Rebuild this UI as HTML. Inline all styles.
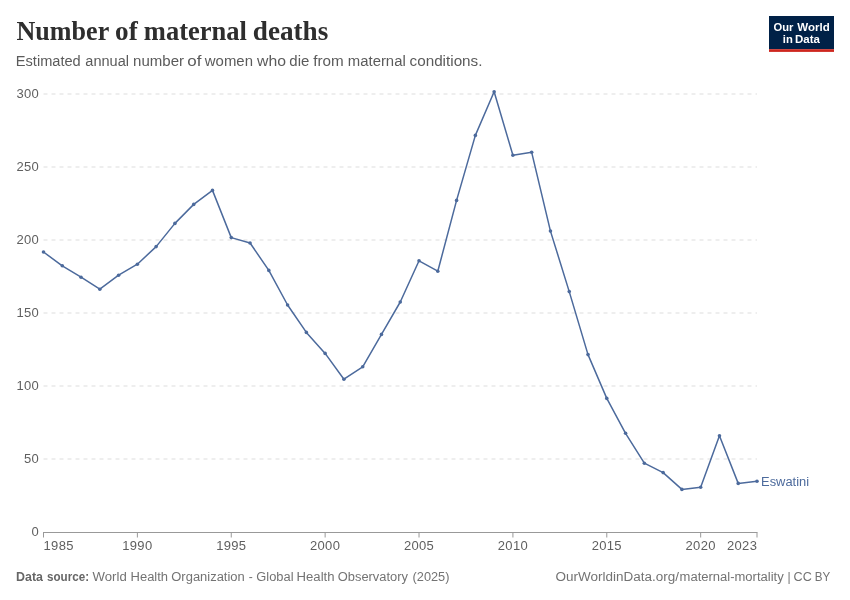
<!DOCTYPE html>
<html><head><meta charset="utf-8"><title>Number of maternal deaths</title>
<style>
html,body{margin:0;padding:0;background:#fff;}
svg{display:block;font-family:"Liberation Sans",sans-serif;}
.title{font-family:"Liberation Serif",serif;font-weight:bold;font-size:27px;fill:#2e2e2e;}
.sub{font-size:14px;fill:#5b5b5b;}
.grid line{stroke:#dddddd;stroke-width:1;stroke-dasharray:4 4;}
.ax text{font-size:13px;fill:#5f5f5f;letter-spacing:0.3px;}
.ticks line,.axline{stroke:#999;stroke-width:1;}
.foot{font-size:12px;fill:#737373;}
.footb{font-size:12px;fill:#666666;font-weight:bold;}
.logo{font-size:11.2px;font-weight:bold;fill:#fff;}
.series{fill:none;stroke:#4c6a9c;stroke-width:1.5;stroke-linejoin:round;stroke-linecap:round;}
.dots circle{fill:#4c6a9c;}
.lbl{font-size:12.3px;fill:#4c6a9c;}
</style></head><body>
<svg width="850" height="600" viewBox="0 0 850 600">
<rect width="850" height="600" fill="#fff"/>
<rect x="769" y="16" width="65" height="33.2" fill="#002147"/>
<rect x="769" y="49.2" width="65" height="2.7" fill="#ce261e"/>
<g class="grid"><line x1="43.5" x2="757" y1="94" y2="94"/><line x1="43.5" x2="757" y1="167" y2="167"/><line x1="43.5" x2="757" y1="240" y2="240"/><line x1="43.5" x2="757" y1="313" y2="313"/><line x1="43.5" x2="757" y1="386" y2="386"/><line x1="43.5" x2="757" y1="459" y2="459"/></g>
<g class="ax"><text x="39.0" y="98.2" text-anchor="end">300</text><text x="39.0" y="171.2" text-anchor="end">250</text><text x="39.0" y="244.2" text-anchor="end">200</text><text x="39.0" y="317.2" text-anchor="end">150</text><text x="39.0" y="390.2" text-anchor="end">100</text><text x="39.0" y="463.2" text-anchor="end">50</text><text x="39.0" y="536.2" text-anchor="end">0</text><text x="43.6" y="550.4" text-anchor="start">1985</text><text x="137.38" y="550.4" text-anchor="middle">1990</text><text x="231.26" y="550.4" text-anchor="middle">1995</text><text x="325.14" y="550.4" text-anchor="middle">2000</text><text x="419.03" y="550.4" text-anchor="middle">2005</text><text x="512.91" y="550.4" text-anchor="middle">2010</text><text x="606.79" y="550.4" text-anchor="middle">2015</text><text x="700.67" y="550.4" text-anchor="middle">2020</text><text x="757.2" y="550.4" text-anchor="end">2023</text></g>
<line class="axline" x1="43" x2="757.5" y1="532.5" y2="532.5"/>
<g class="ticks"><line x1="43.50" x2="43.50" y1="532.5" y2="537.5"/><line x1="137.38" x2="137.38" y1="532.5" y2="537.5"/><line x1="231.26" x2="231.26" y1="532.5" y2="537.5"/><line x1="325.14" x2="325.14" y1="532.5" y2="537.5"/><line x1="419.03" x2="419.03" y1="532.5" y2="537.5"/><line x1="512.91" x2="512.91" y1="532.5" y2="537.5"/><line x1="606.79" x2="606.79" y1="532.5" y2="537.5"/><line x1="700.67" x2="700.67" y1="532.5" y2="537.5"/><line x1="757.00" x2="757.00" y1="532.5" y2="537.5"/></g>
<polyline class="series" points="43.5,252.0 62.28,265.8 81.05,277.2 99.83,289.2 118.61,275.2 137.38,264.2 156.16,246.6 174.93,223.4 193.71,204.4 212.49,190.4 231.26,237.6 250.04,243.0 268.82,270.4 287.59,305.0 306.37,332.4 325.14,353.4 343.92,379.2 362.7,366.8 381.47,334.4 400.25,302.0 419.03,260.8 437.8,271.2 456.58,200.4 475.36,135.4 494.13,91.8 512.91,155.2 531.68,152.3 550.46,231.1 569.24,291.6 588.01,354.6 606.79,398.4 625.57,433.3 644.34,463.2 663.12,472.6 681.89,489.4 700.67,487.2 719.45,435.8 738.22,483.4 757.0,481.2"/>
<g class="dots"><circle cx="43.5" cy="252.0" r="1.8"/><circle cx="62.28" cy="265.8" r="1.8"/><circle cx="81.05" cy="277.2" r="1.8"/><circle cx="99.83" cy="289.2" r="1.8"/><circle cx="118.61" cy="275.2" r="1.8"/><circle cx="137.38" cy="264.2" r="1.8"/><circle cx="156.16" cy="246.6" r="1.8"/><circle cx="174.93" cy="223.4" r="1.8"/><circle cx="193.71" cy="204.4" r="1.8"/><circle cx="212.49" cy="190.4" r="1.8"/><circle cx="231.26" cy="237.6" r="1.8"/><circle cx="250.04" cy="243.0" r="1.8"/><circle cx="268.82" cy="270.4" r="1.8"/><circle cx="287.59" cy="305.0" r="1.8"/><circle cx="306.37" cy="332.4" r="1.8"/><circle cx="325.14" cy="353.4" r="1.8"/><circle cx="343.92" cy="379.2" r="1.8"/><circle cx="362.7" cy="366.8" r="1.8"/><circle cx="381.47" cy="334.4" r="1.8"/><circle cx="400.25" cy="302.0" r="1.8"/><circle cx="419.03" cy="260.8" r="1.8"/><circle cx="437.8" cy="271.2" r="1.8"/><circle cx="456.58" cy="200.4" r="1.8"/><circle cx="475.36" cy="135.4" r="1.8"/><circle cx="494.13" cy="91.8" r="1.8"/><circle cx="512.91" cy="155.2" r="1.8"/><circle cx="531.68" cy="152.3" r="1.8"/><circle cx="550.46" cy="231.1" r="1.8"/><circle cx="569.24" cy="291.6" r="1.8"/><circle cx="588.01" cy="354.6" r="1.8"/><circle cx="606.79" cy="398.4" r="1.8"/><circle cx="625.57" cy="433.3" r="1.8"/><circle cx="644.34" cy="463.2" r="1.8"/><circle cx="663.12" cy="472.6" r="1.8"/><circle cx="681.89" cy="489.4" r="1.8"/><circle cx="700.67" cy="487.2" r="1.8"/><circle cx="719.45" cy="435.8" r="1.8"/><circle cx="738.22" cy="483.4" r="1.8"/><circle cx="757.0" cy="481.2" r="1.8"/></g>
<text id="t0" class="w title" x="16.55" y="40" textLength="92.67" lengthAdjust="spacingAndGlyphs">Number</text>
<text id="t1" class="w title" x="115.05" y="40" textLength="22.66" lengthAdjust="spacingAndGlyphs">of</text>
<text id="t2" class="w title" x="143.80" y="40" textLength="103.16" lengthAdjust="spacingAndGlyphs">maternal</text>
<text id="t3" class="w title" x="252.80" y="40" textLength="75.42" lengthAdjust="spacingAndGlyphs">deaths</text>
<text id="s0" class="w sub" x="15.80" y="66.2" textLength="64.94" lengthAdjust="spacingAndGlyphs">Estimated</text>
<text id="s1" class="w sub" x="85.30" y="66.2" textLength="43.69" lengthAdjust="spacingAndGlyphs">annual</text>
<text id="s2" class="w sub" x="133.05" y="66.2" textLength="50.94" lengthAdjust="spacingAndGlyphs">number</text>
<text id="s3" class="w sub" x="187.30" y="66.2" textLength="14.15" lengthAdjust="spacingAndGlyphs">of</text>
<text id="s4" class="w sub" x="204.80" y="66.2" textLength="48.16" lengthAdjust="spacingAndGlyphs">women</text>
<text id="s5" class="w sub" x="257.05" y="66.2" textLength="28.92" lengthAdjust="spacingAndGlyphs">who</text>
<text id="s6" class="w sub" x="289.30" y="66.2" textLength="19.99" lengthAdjust="spacingAndGlyphs">die</text>
<text id="s7" class="w sub" x="313.30" y="66.2" textLength="30.47" lengthAdjust="spacingAndGlyphs">from</text>
<text id="s8" class="w sub" x="347.80" y="66.2" textLength="57.95" lengthAdjust="spacingAndGlyphs">maternal</text>
<text id="s9" class="w sub" x="409.55" y="66.2" textLength="72.93" lengthAdjust="spacingAndGlyphs">conditions.</text>
<text id="f0" class="w footb" x="16.05" y="581" textLength="26.96" lengthAdjust="spacingAndGlyphs">Data</text>
<text id="f1" class="w footb" x="47.05" y="581" textLength="41.98" lengthAdjust="spacingAndGlyphs">source:</text>
<text id="f2" class="w foot" x="92.55" y="581" textLength="34.17" lengthAdjust="spacingAndGlyphs">World</text>
<text id="f3" class="w foot" x="130.55" y="581" textLength="37.50" lengthAdjust="spacingAndGlyphs">Health</text>
<text id="f4" class="w foot" x="171.30" y="581" textLength="73.42" lengthAdjust="spacingAndGlyphs">Organization</text>
<text id="f5" class="w foot" x="248.63" y="581">-</text>
<text id="f6" class="w foot" x="256.30" y="581" textLength="37.24" lengthAdjust="spacingAndGlyphs">Global</text>
<text id="f7" class="w foot" x="296.55" y="581" textLength="37.97" lengthAdjust="spacingAndGlyphs">Health</text>
<text id="f8" class="w foot" x="337.80" y="581" textLength="70.16" lengthAdjust="spacingAndGlyphs">Observatory</text>
<text id="f9" class="w foot" x="412.55" y="581" textLength="36.94" lengthAdjust="spacingAndGlyphs">(2025)</text>
<text id="f10" class="w foot" x="555.55" y="581" textLength="123.41" lengthAdjust="spacingAndGlyphs">OurWorldinData.org/</text>
<text id="f11" class="w foot" x="679.55" y="581" textLength="104.16" lengthAdjust="spacingAndGlyphs">maternal-mortality</text>
<text id="f12" class="w foot" x="787.45" y="581">|</text>
<text id="f13" class="w foot" x="793.55" y="581" textLength="18.20" lengthAdjust="spacingAndGlyphs">CC</text>
<text id="f14" class="w foot" x="814.80" y="581" textLength="15.53" lengthAdjust="spacingAndGlyphs">BY</text>
<text id="l0" class="w logo" x="773.55" y="30.5" textLength="19.89" lengthAdjust="spacingAndGlyphs">Our</text>
<text id="l1" class="w logo" x="797.30" y="30.5" textLength="32.41" lengthAdjust="spacingAndGlyphs">World</text>
<text id="l2" class="w logo" x="782.80" y="42.5" textLength="9.99" lengthAdjust="spacingAndGlyphs">in</text>
<text id="l3" class="w logo" x="795.05" y="42.5" textLength="24.93" lengthAdjust="spacingAndGlyphs">Data</text>
<text id="e0" class="w lbl" x="761.05" y="486" textLength="48.04" lengthAdjust="spacingAndGlyphs">Eswatini</text>
</svg>
</body></html>
